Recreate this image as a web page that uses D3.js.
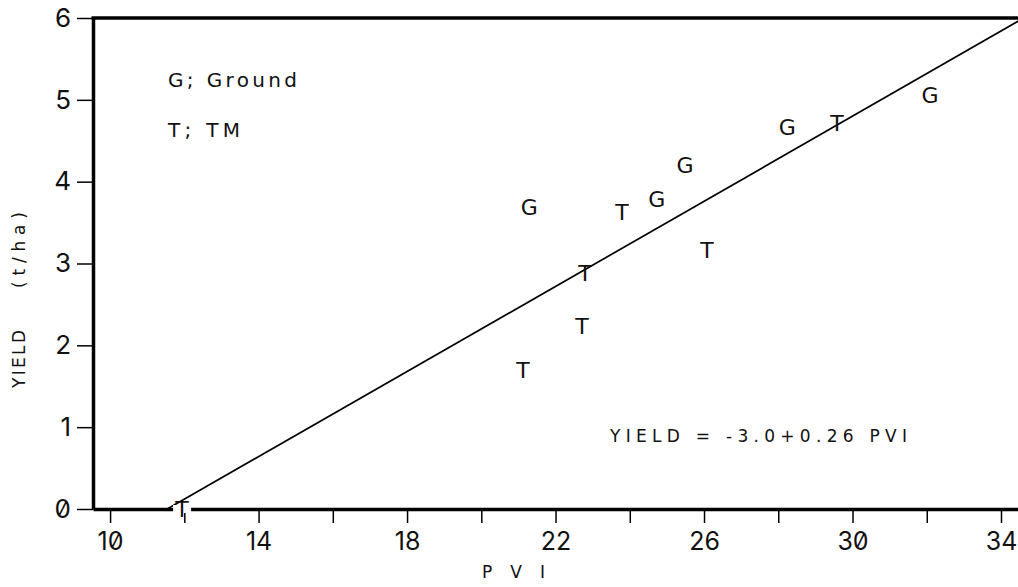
<!DOCTYPE html>
<html>
<head>
<meta charset="utf-8">
<script src="https://cdn.jsdelivr.net/npm/d3@7/dist/d3.min.js"></script>
<style>
  html, body { margin: 0; padding: 0; background: #fff; }
  svg { display: block; }
  .tick text { font-family: Inter, "DejaVu Sans", sans-serif; font-feature-settings: "zero" 1; fill: #111; }
  .lbl { font-family: "DejaVu Sans", sans-serif; fill: #111; }
</style>
</head>
<body>
<svg id="chart" width="1018" height="587"></svg>
<script>
// PVI axis ticks (every 2, labelled every 4) and yield ticks
const pviTicks = [10, 12, 14, 16, 18, 20, 22, 24, 26, 28, 30, 32, 34];
const pviLabelled = [10, 14, 18, 22, 26, 30, 34];
const yieldTicks = [0, 1, 2, 3, 4, 5, 6];

// Ground-based observations (G)
const groundPVI   = [21.29, 24.73, 25.49, 28.24, 32.09];
const groundYield = [3.69, 3.79, 4.20, 4.67, 5.06];

// TM (satellite) observations (T)
const tmPVI   = [11.94, 21.12, 22.71, 22.79, 23.79, 26.08, 29.58];
const tmYield = [0.00, 1.70, 2.24, 2.88, 3.63, 3.17, 4.72];

// Fitted regression: YIELD = -3.0 + 0.26 PVI
const intercept = -3.0;
const slope = 0.26;

const svg = d3.select("#chart");

const x = d3.scaleLinear().domain([9.54, 34.8]).range([93, 1030.7]);
const y = d3.scaleLinear().domain([0, 6]).range([509, 18]);

// clip region for plot contents
svg.append("clipPath").attr("id", "plotClip")
  .append("rect")
  .attr("x", x.range()[0]).attr("y", y(6))
  .attr("width", x.range()[1] - x.range()[0])
  .attr("height", y(0) - y(6));

// Bottom axis
const xAxis = d3.axisBottom(x)
  .tickValues(pviTicks)
  .tickFormat(d => pviLabelled.includes(d) ? d : "")
  .tickSize(14).tickSizeOuter(0).tickPadding(9);
const gx = svg.append("g").attr("transform", `translate(0,${y(0)})`).call(xAxis);
gx.select(".domain").attr("stroke", "#000").attr("stroke-width", 3.5);
gx.selectAll(".tick line").attr("stroke", "#000").attr("stroke-width", 1.5);
gx.selectAll(".tick text").attr("font-size", 25);

// Left axis
const yAxis = d3.axisLeft(y)
  .tickValues(yieldTicks)
  .tickFormat(d3.format("d"))
  .tickSize(16).tickSizeOuter(0).tickPadding(6);
const gy = svg.append("g").attr("transform", `translate(${x.range()[0]},0)`).call(yAxis);
gy.select(".domain").attr("stroke", "#000").attr("stroke-width", 3.5);
gy.selectAll(".tick line").attr("stroke", "#000").attr("stroke-width", 1.5);
gy.selectAll(".tick text").attr("font-size", 26);

// Top frame line
svg.append("line")
  .attr("x1", x.range()[0] - 1.5).attr("x2", x.range()[1])
  .attr("y1", y(6)).attr("y2", y(6))
  .attr("stroke", "#000").attr("stroke-width", 3.5);

// Regression line, from its x-intercept to the right edge
const x0 = -intercept / slope;
const xEnd = x.domain()[1];
svg.append("line")
  .attr("clip-path", "url(#plotClip)")
  .attr("x1", x(x0)).attr("y1", y(intercept + slope * x0))
  .attr("x2", x(xEnd)).attr("y2", y(intercept + slope * xEnd))
  .attr("stroke", "#000").attr("stroke-width", 1.7);

// Point markers drawn as letters; a marker sitting on the baseline
// blanks out the axis behind its character cell, as the plotter did.
function drawLetters(xs, ys, letter, cls) {
  const pts = xs.map((v, i) => ({ pvi: v, yld: ys[i] }));
  svg.append("g").selectAll("rect")
    .data(pts.filter(d => d.yld === 0))
    .join("rect")
    .attr("x", d => x(d.pvi) - 9)
    .attr("y", d => y(d.yld) - 4)
    .attr("width", 18).attr("height", 8)
    .attr("fill", "#fff");
  svg.append("g").selectAll("text")
    .data(pts)
    .join("text")
    .attr("class", "lbl " + cls)
    .attr("x", d => x(d.pvi))
    .attr("y", d => y(d.yld))
    .attr("dy", "0.36em")
    .attr("text-anchor", "middle")
    .attr("font-size", 22)
    .text(letter);
}
drawLetters(groundPVI, groundYield, "G", "ground");
drawLetters(tmPVI, tmYield, "T", "tm");

// Legend
svg.append("text").attr("class", "lbl")
  .attr("x", 168).attr("y", 87).attr("font-size", 20)
  .attr("textLength", 129).attr("lengthAdjust", "spacing")
  .text("G; Ground");
svg.append("text").attr("class", "lbl")
  .attr("x", 168).attr("y", 137).attr("font-size", 20)
  .attr("textLength", 72).attr("lengthAdjust", "spacing")
  .text("T;  TM");

// Regression equation
svg.append("text").attr("class", "lbl")
  .attr("x", 610).attr("y", 442).attr("font-size", 17)
  .attr("textLength", 297).attr("lengthAdjust", "spacing")
  .text("YIELD = -3.0+0.26 PVI");

// Axis titles
svg.append("text").attr("class", "lbl")
  .attr("x", 482).attr("y", 578).attr("font-size", 17)
  .attr("textLength", 63).attr("lengthAdjust", "spacing")
  .text("P V I");
const yTitle = svg.append("text").attr("class", "lbl")
  .attr("transform", "translate(25,388) rotate(-90)")
  .attr("font-size", 17);
yTitle.append("tspan").attr("x", 0)
  .attr("textLength", 58).attr("lengthAdjust", "spacing")
  .text("YIELD");
yTitle.append("tspan").attr("x", 100)
  .attr("textLength", 76).attr("lengthAdjust", "spacing")
  .text("(t/ha)");
</script>
</body>
</html>
